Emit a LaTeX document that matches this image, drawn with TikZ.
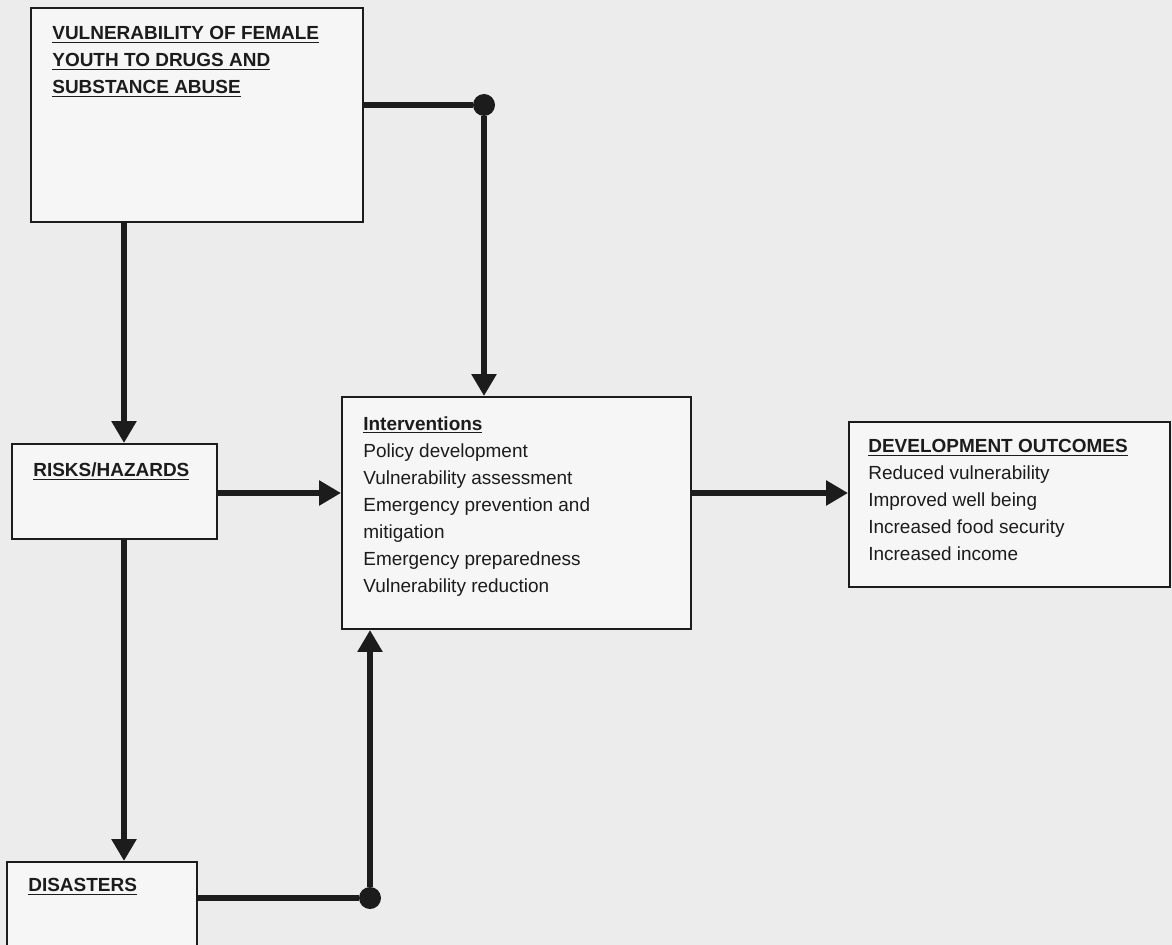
\documentclass[tikz,border=0pt]{standalone}
\usepackage{fontspec}
\setmainfont{Liberation Sans}
\usetikzlibrary{arrows.meta}
\definecolor{paper}{RGB}{236,236,236}
\definecolor{boxfill}{RGB}{246,246,246}
\definecolor{ink}{RGB}{28,28,28}
\tikzstyle{box} = [draw=ink, rectangle, fill=boxfill, line width=0.04cm, inner sep=0pt]
\tikzstyle{txt} = [anchor=north west, inner sep=0pt, align=left, text=ink,
    font=\fontsize{10.8}{15.4}\selectfont]
\tikzstyle{link} = [draw=ink, line width=0.12cm]
\tikzstyle{dot} = [fill=ink, circle, inner sep=0pt, minimum size=0.44cm]

\begin{document}
\begin{tikzpicture}[x=0.02cm, y=-0.02cm, >={Triangle[length=0.44cm, width=0.48cm]}]
            \useasboundingbox[fill=paper] (0,0) rectangle (1172,945);

            \node[box, name=vuln, minimum width=6.64cm, minimum height=4.28cm] at (197, 115) {};
            \node[box, name=risks, minimum width=4.1cm, minimum height=1.9cm] at (114.5, 491.5) {};
            \node[box, name=disasters, minimum width=3.8cm, minimum height=1.96cm] at (102, 911) {};
            \node[box, name=interv, minimum width=6.98cm, minimum height=4.64cm] at (516.5, 513) {};
            \node[box, name=outcomes, minimum width=6.42cm, minimum height=3.3cm] at (1009.5, 504.5) {};

            \node[txt, name=vuln_text] at (52, 26) {\textbf{\underline{VULNERABILITY OF FEMALE}}\\
                \textbf{\underline{YOUTH TO DRUGS AND}}\\ \textbf{\underline{SUBSTANCE ABUSE}}};
            \node[txt, name=risks_text] at (33, 462) {\textbf{\underline{RISKS/HAZARDS}}};
            \node[txt, name=disasters_text] at (28, 878) {\textbf{\underline{DISASTERS}}};
            \node[txt, name=interv_text] at (363, 416) {\textbf{\underline{Interventions}}\\
                Policy development\\ Vulnerability assessment\\ Emergency prevention and\\
                mitigation\\ Emergency preparedness\\ Vulnerability reduction};
            \node[txt, name=outcomes_text] at (868, 439) {\textbf{\underline{DEVELOPMENT OUTCOMES}}\\
                Reduced vulnerability\\ Improved well being\\ Increased food security\\ Increased income};

            \node[dot, name=join_top] at (484, 105) {};
            \node[dot, name=join_bot] at (370, 898) {};
            \coordinate (lane) at (124, 0);
            \coordinate (mid) at (0, 493);

            \draw[link] (vuln.east |- join_top) -- (join_top);
            \draw[link, ->] (join_top) -- (join_top |- interv.north);
            \draw[link, ->] (vuln.south -| lane) -- (risks.north -| lane);
            \draw[link, ->] (risks.east |- mid) -- (interv.west |- mid);
            \draw[link, ->] (risks.south -| lane) -- (disasters.north -| lane);
            \draw[link] (disasters.east |- join_bot) -- (join_bot);
            \draw[link, ->] (join_bot) -- (join_bot |- interv.south);
            \draw[link, ->] (interv.east |- mid) -- (outcomes.west |- mid);
        \end{tikzpicture}
\end{document}
